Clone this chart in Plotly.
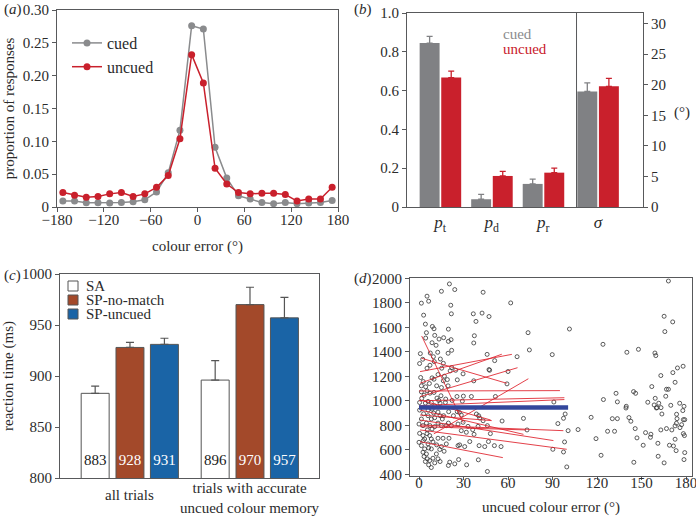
import plotly.graph_objects as go

W, H = 696, 516
FONT = "Liberation Serif"
TXT = "#2b2b2b"
FRAME = "#58595b"

def px(x):
    return x / W

def py(y):
    return 1 - y / H

# ---------------- (a) distribution of colour error ----------------
err_bins = [-172.5, -157.5, -142.5, -127.5, -112.5, -97.5, -82.5, -67.5, -52.5, -37.5,
            -22.5, -7.5, 7.5, 22.5, 37.5, 52.5, 67.5, 82.5, 97.5, 112.5, 127.5, 142.5,
            157.5, 172.5]
prop_cued = [0.009, 0.009, 0.0066, 0.0066, 0.006, 0.007, 0.008, 0.011, 0.023, 0.052,
             0.117, 0.276, 0.271, 0.091, 0.044, 0.017, 0.012, 0.007, 0.005, 0.007,
             0.005, 0.006, 0.007, 0.010]
prop_uncued = [0.022, 0.018, 0.015, 0.016, 0.020, 0.022, 0.016, 0.020, 0.030, 0.048,
               0.104, 0.232, 0.189, 0.059, 0.035, 0.022, 0.020, 0.021, 0.021, 0.019,
               0.009, 0.012, 0.012, 0.030]
a_xticks = [-180, -120, -60, 0, 60, 120, 180]
a_xticklabels = ["\u2212180", "\u2212120", "\u221260", "0", "60", "120", "180"]
a_yticks = [0, 0.05, 0.10, 0.15, 0.20, 0.25, 0.30]
a_yticklabels = ["0", "0.05", "0.10", "0.15", "0.20", "0.25", "0.30"]

# ---------------- (b) mixture model parameters ----------------
b_params = ["<i>p</i><sub>t</sub>", "<i>p</i><sub>d</sub>", "<i>p</i><sub>r</sub>"]
b_sigma_label = "<i>\u03c3</i>"
b_cat_pos = [0, 1, 2]
b_sigma_pos = 3.06
p_cued = [0.845, 0.040, 0.119]
p_cued_err = [0.035, 0.025, 0.025]
p_uncued = [0.667, 0.160, 0.177]
p_uncued_err = [0.033, 0.024, 0.023]
sigma_cued = [18.9]
sigma_cued_err = [1.4]
sigma_uncued = [19.75]
sigma_uncued_err = [1.3]
b_yticks = [0, 0.2, 0.4, 0.6, 0.8, 1.0]
b_yticklabels = ["0", "0.2", "0.4", "0.6", "0.8", "1.0"]
b_y2ticks = [0, 5, 10, 15, 20, 25, 30]

# ---------------- (c) reaction times ----------------
c_groups = ["all trials", "trials with accurate<br>uncued colour memory"]
c_conditions = ["SA", "SP-no-match", "SP-uncued"]
rt_SA = [883, 896]
rt_SA_err = [7, 19]
rt_nomatch = [928, 970]
rt_nomatch_err = [5, 17]
rt_uncued = [931, 957]
rt_uncued_err = [6, 20]
c_yticks = [800, 850, 900, 950, 1000]

# ---------------- (d) RT vs uncued colour error ----------------
d_err = [168.1, 165.2, 171.0, 165.7, 101.4, 124.0, 140.1, 147.9, 159.0, 159.6, 89.8,
         174.2, 178.0, 171.1, 163.0, 172.6, 156.9, 166.8, 168.1, 144.6, 146.0, 132.8,
         124.3, 133.7, 166.3, 159.2, 154.2, 158.5, 160.4, 160.0, 163.1, 161.6, 169.7,
         175.7, 178.6, 177.8, 173.6, 163.7, 139.7, 139.5, 141.5, 142.8, 130.3, 133.7,
         116.0, 145.7, 127.1, 131.8, 152.7, 156.3, 156.0, 163.0, 166.8, 170.4, 172.6,
         173.5, 173.9, 177.0, 175.9, 178.2, 179.1, 178.2, 178.9, 146.9, 161.0, 168.8,
         171.5, 172.6, 151.1, 173.3, 179.1, 178.6, 161.2, 165.2, 144.8, 122.7, 119.3,
         107.2, 100.5, 98.1, 97.4, 90.2, 93.6, 97.4, 98.5, 99.6, 90.9,
         20.5, 15.1, 24.1, 5.4, 1.6, 6.5, 21.4, 43.2, 61.8, 21.8, 3.1, 36.6, 42.5, 47.2,
         38.4, 4.3, 9.0, 10.1, 5.0, 4.5, 10.6, 13.5, 19.8, 16.6, 19.8, 21.6, 8.8, 11.5,
         37.3, 36.9, 73.5, 74.4, 7.6, 9.7, 12.6, 14.4, 19.6, 22.0, 45.9, 0.9, 2.5, 0.4,
         5.4, 7.4, 10.3, 15.3, 16.4, 22.0, 21.0, 24.7, 29.7, 47.6, 47.2, 51.0, 60.0, 66.1,
         1.1, 2.9, 1.6, 4.5, 7.0, 8.8, 10.1, 12.8, 17.1, 19.1, 16.4, 15.1, 11.9, 19.6,
         25.8, 36.9, 51.5, 59.3, 1.6, 3.4, 5.4, 7.4, 10.1, 14.8, 12.1, 13.3, 18.0, 1.8,
         0.4, 4.3, 6.1, 8.3, 10.6, 14.2, 17.8, 22.3, 25.6, 29.9, 35.3, 29.2, 0.4, 3.1,
         6.1, 8.8, 9.9, 6.1, 12.8, 14.2, 15.7, 16.6, 10.6, 8.3, 20.0, 23.2, 25.8, 28.5,
         27.2, 38.7, 40.2, 40.9, 43.2, 56.0, 70.4, 72.8, 1.6, 0.0, 2.7, 5.0, 7.4, 5.6,
         8.8, 10.6, 12.8, 15.1, 18.4, 19.8, 21.8, 26.3, 29.7, 33.0, 28.5, 31.9, 36.2,
         39.8, 46.1, 48.1, 37.1, 0.4, 2.7, 5.4, 7.2, 3.8, 8.3, 0.0, 1.6, 6.1, 9.4, 12.8,
         16.2, 11.9, 15.1, 18.4, 20.2, 26.3, 27.4, 30.8, 34.2, 40.5, 44.3, 46.8, 50.8,
         55.3, 3.8, 6.5, 8.3, 2.7, 5.0, 3.4, 5.6, 4.3, 7.2, 9.4, 11.7, 12.8, 10.6, 14.2,
         8.3, 6.5, 19.8, 20.7, 24.1, 26.7, 32.1, 40.0, 46.1, 2.9, 14.0, 16.9]
d_rt = [1978, 1690, 1644, 1565, 1586, 1461, 1396, 1420, 1390, 1369, 1377,
        1268, 1282, 1230, 1206, 1151, 1116, 1094, 1094, 1075, 1061, 1061,
        1010, 991, 1037, 1020, 988, 966, 944, 941, 944, 980, 963,
        980, 955, 920, 890, 892, 955, 941, 863, 833, 854, 854,
        865, 773, 751, 751, 740, 727, 702, 762, 773, 762, 795,
        816, 854, 805, 781, 846, 846, 732, 716, 697, 653, 637,
        631, 686, 637, 593, 577, 520, 547, 493, 498, 555, 691,
        765, 756, 664, 582, 604, 814, 857, 892, 460, 990,
        1954, 1894, 1908, 1854, 1797, 1813, 1780, 1886, 1799, 1710, 1699, 1710, 1716, 1688,
        1648, 1626, 1607, 1588, 1556, 1512, 1534, 1504, 1585, 1515, 1485, 1499, 1474, 1453,
        1531, 1472, 1556, 1415, 1390, 1360, 1396, 1341, 1388, 1412, 1379, 1385, 1339, 1304,
        1266, 1290, 1320, 1266, 1306, 1271, 1244, 1249, 1220, 1249, 1255, 1328, 1239, 1360,
        1190, 1157, 1122, 1114, 1141, 1187, 1176, 1214, 1201, 1173, 1163, 1108, 1122, 1122,
        1171, 1163, 1035, 1138, 1073, 1046, 1081, 1062, 1068, 1041, 1022, 1003, 1014, 1019,
        986, 981, 995, 986, 959, 981, 986, 1003, 1035, 1038, 1035, 997, 924, 894,
        924, 932, 900, 878, 908, 878, 851, 878, 862, 851, 911, 878, 911, 884,
        905, 892, 878, 859, 837, 835, 856, 762, 851, 810, 797, 818, 797, 762,
        770, 789, 818, 797, 797, 818, 797, 810, 824, 791, 756, 743, 764,
        791, 797, 732, 726, 734, 716, 732, 716, 688, 688, 661, 634, 648, 664, 694,
        694, 640, 626, 648, 694, 634, 640, 626, 667, 634, 626, 667, 634,
        626, 607, 615, 607, 580, 566, 545, 526, 504, 512, 531, 566, 526, 493, 504,
        455, 477, 472, 499, 485, 520, 477, 518, 423, 675, 602, 588]
# individual-subject regression lines (start / end)
subj_x0 = [1.8, 0.7, 1.8, 0.7, 0.7, 10.0, 0.0, 0.0, 0.0, 0.7, 0.7, 0.7, 0.7, 0.7, 0.7, 0.7, 0.7]
subj_y0 = [1529, 1143, 1347, 1238, 1034, 730, 1080, 1000, 960, 1007, 925, 843, 802, 762, 666, 884, 789]
subj_x1 = [29.9, 55.8, 59.1, 62.6, 66.4, 73.7, 95.0, 98.0, 98.0, 48.3, 70.4, 90.6, 97.3, 99.6, 56.5, 49.0, 72.0]
subj_y1 = [821, 1380, 1143, 1379, 1270, 1180, 1083, 1025, 1010, 843, 726, 675, 756, 604, 536, 838, 762]
group_x = [0, 100.5]
group_y = [945, 945]
d_xticks = [0, 30, 60, 90, 120, 150, 180]
d_yticks = [400, 600, 800, 1000, 1200, 1400, 1600, 1800, 2000]

GRAY = "#8a8b8d"
RED = "#c9202c"
BAR_GRAY = "#808184"
C_COLORS = ["#ffffff", "#a3492a", "#1a64a6"]
C_TEXT = ["#1a1a1a", "#ffffff", "#ffffff"]

fig = go.Figure()

# (a)
fig.add_trace(go.Scatter(x=err_bins, y=prop_cued, mode="lines+markers", name="cued",
                         line=dict(color=GRAY, width=1.5), marker=dict(size=7, color=GRAY),
                         xaxis="x", yaxis="y"))
fig.add_trace(go.Scatter(x=err_bins, y=prop_uncued, mode="lines+markers", name="uncued",
                         line=dict(color=RED, width=1.5), marker=dict(size=7, color=RED),
                         xaxis="x", yaxis="y"))

# (b)
bw = 0.387
off_c, off_u = -0.206, 0.213
fig.add_trace(go.Bar(x=[p + off_c for p in b_cat_pos], y=p_cued, width=bw,
                     marker=dict(color=BAR_GRAY, line=dict(width=0)),
                     error_y=dict(type="data", symmetric=False, array=p_cued_err,
                                  arrayminus=[0] * len(p_cued), color=BAR_GRAY, thickness=1.3, width=3),
                     xaxis="x2", yaxis="y2", showlegend=False, name="cued"))
fig.add_trace(go.Bar(x=[p + off_u for p in b_cat_pos], y=p_uncued, width=bw,
                     marker=dict(color=RED, line=dict(width=0)),
                     error_y=dict(type="data", symmetric=False, array=p_uncued_err,
                                  arrayminus=[0] * len(p_uncued), color=RED, thickness=1.3, width=3),
                     xaxis="x2", yaxis="y2", showlegend=False, name="uncued"))
fig.add_trace(go.Bar(x=[b_sigma_pos + off_c], y=sigma_cued, width=bw,
                     marker=dict(color=BAR_GRAY, line=dict(width=0)),
                     error_y=dict(type="data", symmetric=False, array=sigma_cued_err,
                                  arrayminus=[0], color=BAR_GRAY, thickness=1.3, width=3),
                     xaxis="x2", yaxis="y3", showlegend=False, name="cued \u03c3"))
fig.add_trace(go.Bar(x=[b_sigma_pos + off_u], y=sigma_uncued, width=bw,
                     marker=dict(color=RED, line=dict(width=0)),
                     error_y=dict(type="data", symmetric=False, array=sigma_uncued_err,
                                  arrayminus=[0], color=RED, thickness=1.3, width=3),
                     xaxis="x2", yaxis="y3", showlegend=False, name="uncued \u03c3"))

# (c)
c_offsets = [-0.29, 0.0, 0.287]
c_width = 0.233
c_vals = [rt_SA, rt_nomatch, rt_uncued]
c_errs = [rt_SA_err, rt_nomatch_err, rt_uncued_err]
for i, cond in enumerate(c_conditions):
    xs = [g + c_offsets[i] for g in range(len(c_groups))]
    fig.add_trace(go.Bar(x=xs, y=c_vals[i], width=c_width, name=cond,
                         marker=dict(color=C_COLORS[i], line=dict(color="#555555", width=1)),
                         error_y=dict(type="data", symmetric=False, array=c_errs[i],
                                      arrayminus=[0] * len(c_groups), color="#555555",
                                      thickness=1.2, width=4),
                         xaxis="x3", yaxis="y4", showlegend=False))
    fig.add_trace(go.Scatter(x=xs, y=[816] * len(c_groups), mode="text",
                             text=[str(v) for v in c_vals[i]],
                             textfont=dict(family=FONT, size=15, color=C_TEXT[i]),
                             xaxis="x3", yaxis="y4", showlegend=False, hoverinfo="skip"))

# (d)
fig.add_trace(go.Scatter(x=d_err, y=d_rt, mode="markers",
                         marker=dict(symbol="circle-open", size=4, color="#333333",
                                     line=dict(width=0.8)),
                         xaxis="x4", yaxis="y5", showlegend=False, name="trials"))
lx, ly = [], []
for a, b, c, d in zip(subj_x0, subj_y0, subj_x1, subj_y1):
    lx += [a, c, None]
    ly += [b, d, None]
fig.add_trace(go.Scatter(x=lx, y=ly, mode="lines",
                         line=dict(color="rgba(222,32,42,0.85)", width=1),
                         xaxis="x4", yaxis="y5", showlegend=False, name="subjects"))
fig.add_trace(go.Scatter(x=group_x, y=group_y, mode="lines",
                         line=dict(color="#33479c", width=4.5),
                         xaxis="x4", yaxis="y5", showlegend=False, name="group"))

axis_common = dict(showgrid=False, zeroline=False, showline=True, linecolor=FRAME,
                   linewidth=1, tickcolor=FRAME, automargin=False, ticklabeloverflow="allow",
                   tickfont=dict(family=FONT, size=15, color=TXT))

fig.update_layout(
    width=W, height=H, margin=dict(l=0, r=0, t=0, b=0, autoexpand=False),
    paper_bgcolor="white", plot_bgcolor="white", barmode="overlay",
    font=dict(family=FONT, size=15, color=TXT),
    showlegend=True,
    legend=dict(x=px(67), y=py(26), xanchor="left", yanchor="top",
                bgcolor="rgba(0,0,0,0)", font=dict(family=FONT, size=16, color=TXT),
                tracegroupgap=0, itemwidth=30),
    xaxis=dict(axis_common, domain=[px(57), px(338)], anchor="y", range=[-180, 180],
               tickvals=a_xticks, ticktext=a_xticklabels, ticks="outside", ticklen=4,
               ticklabelstandoff=-5, mirror=True,
               title=dict(text="colour error (\u00b0)", font=dict(size=15), standoff=13)),
    yaxis=dict(axis_common, domain=[py(207), py(10)], anchor="x", range=[0, 0.30],
               tickvals=a_yticks, ticktext=a_yticklabels, ticks="outside", ticklen=4,
               mirror=True, title=dict(text="proportion of responses", font=dict(size=15), standoff=4)),
    xaxis2=dict(axis_common, domain=[px(407), px(643)], anchor="y2", range=[-0.645, 3.935],
                tickvals=b_cat_pos + [b_sigma_pos], ticktext=b_params + [b_sigma_label],
                ticks="", mirror=True, ticklabelstandoff=0,
                tickfont=dict(family=FONT, size=17, color=TXT)),
    yaxis2=dict(axis_common, domain=[py(207), py(13)], anchor="x2", range=[0, 1.0],
                tickvals=b_yticks, ticktext=b_yticklabels, ticks="outside", ticklen=4),
    yaxis3=dict(axis_common, overlaying="y2", anchor="x2", side="right",
                range=[0, 31.75], tickvals=b_y2ticks, ticks="outside", ticklen=4),
    xaxis3=dict(axis_common, domain=[px(60), px(319)], anchor="y4", range=[-0.583, 1.575],
                tickvals=list(range(len(c_groups))), showticklabels=False, ticks="",
                mirror=True),
    yaxis4=dict(axis_common, domain=[py(478), py(274)], anchor="x3", range=[800, 1000],
                tickvals=c_yticks, ticks="outside", ticklen=4, mirror=True,
                title=dict(text="reaction time (ms)", font=dict(size=15), standoff=4)),
    xaxis4=dict(axis_common, domain=[px(410), px(692)], anchor="y5", range=[-6.07, 184],
                tickvals=d_xticks, ticks="outside", ticklen=3, mirror=True, ticklabelstandoff=-10,
                title=dict(text="uncued colour error (\u00b0)", font=dict(size=15), standoff=14)),
    yaxis5=dict(axis_common, domain=[py(475.5), py(278.3)], anchor="x4", range=[390, 2000],
                tickvals=d_yticks, ticks="outside", ticklen=4, mirror=True),
)

# divider between proportions and sigma in (b)
fig.add_shape(type="line", xref="x2", yref="y2 domain", x0=2.645, x1=2.645, y0=0, y1=1,
              line=dict(color=FRAME, width=1))

# category labels of (c)
c_label_y = [495, 498]
for g, lab in enumerate(c_groups):
    fig.add_annotation(x=g, y=py(c_label_y[g]), xref="x3", yref="paper", text=lab,
                       showarrow=False, xanchor="center", yanchor="middle",
                       font=dict(family=FONT, size=15, color=TXT))

# manual legend for (c)
leg_y = [286, 300, 314]
for i, cond in enumerate(c_conditions):
    fig.add_shape(type="rect", xref="paper", yref="paper",
                  x0=px(68), x1=px(78), y0=py(leg_y[i] + 5), y1=py(leg_y[i] - 5),
                  fillcolor=C_COLORS[i], line=dict(color="#555555", width=1))
    fig.add_annotation(x=px(84), y=py(leg_y[i]), xref="paper", yref="paper", text=cond,
                       showarrow=False, xanchor="left", yanchor="middle",
                       font=dict(family=FONT, size=15, color=TXT))

annots = [
    ("(<i>a</i>)", 2, 9), ("(<i>b</i>)", 352, 9), ("(<i>c</i>)", 2, 275), ("(<i>d</i>)", 352, 278),
]
for t, x, y in annots:
    fig.add_annotation(x=px(x), y=py(y), xref="paper", yref="paper", text=t, showarrow=False,
                       xanchor="left", yanchor="middle", font=dict(family=FONT, size=15, color=TXT))
fig.add_annotation(x=px(501), y=py(34), xref="paper", yref="paper", text="cued", showarrow=False,
                   xanchor="left", yanchor="middle", font=dict(family=FONT, size=15, color=GRAY))
fig.add_annotation(x=px(501), y=py(49), xref="paper", yref="paper", text="uncued", showarrow=False,
                   xanchor="left", yanchor="middle", font=dict(family=FONT, size=15, color=RED))
fig.add_annotation(x=px(672), y=py(113), xref="paper", yref="paper", text="(\u00b0)", showarrow=False,
                   xanchor="left", yanchor="middle", font=dict(family=FONT, size=15, color=TXT))

fig.write_html("out.html", config={"displayModeBar": False},
               post_script="document.body.style.margin='0px';")
